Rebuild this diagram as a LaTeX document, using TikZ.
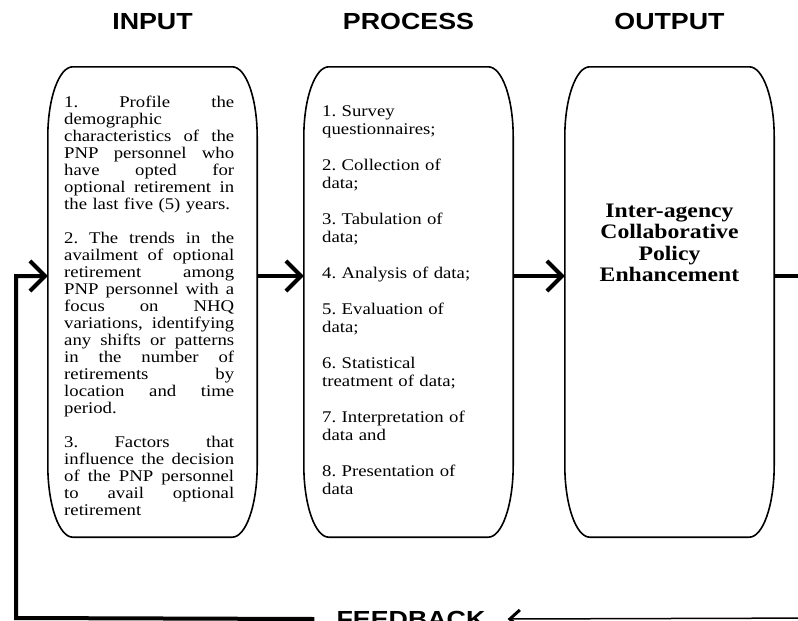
\documentclass[tikz,border=0pt]{standalone}
\usepackage{fontspec}
\setmainfont{Liberation Serif}[FakeStretch=1.15]
\newfontfamily\headfont{Liberation Sans}[FakeStretch=1.15]
\usetikzlibrary{arrows.meta,positioning}

% frame with elliptic corners round a named panel
\newcommand{\panelframe}[1]{%
  \draw[frame] ([xshift=25pt]#1.north west) -- ([xshift=-25pt]#1.north east)
    arc[start angle=90, end angle=0, x radius=25pt, y radius=70pt]
    -- ([yshift=72pt]#1.south east)
    arc[start angle=0, end angle=-90, x radius=25pt, y radius=72pt]
    -- ([xshift=25pt]#1.south west)
    arc[start angle=270, end angle=180, x radius=25pt, y radius=72pt]
    -- ([yshift=-70pt]#1.north west)
    arc[start angle=180, end angle=90, x radius=25pt, y radius=70pt]
    -- cycle;}
% one justified line of the input column
\newcommand{\fullline}[1]{\leavevmode\hbox to 170pt{\spaceskip=0.25em plus 1fil\relax #1}}

\begin{document}
\begin{tikzpicture}[
    x=1pt, y=-1pt,
    node distance=34pt,
    panel/.style={rectangle, minimum width=209pt, minimum height=470pt, inner sep=0pt},
    frame/.style={draw=black, line width=1.6pt, fill=white},
    title/.style={font=\headfont\bfseries\fontsize{23.3pt}{28pt}\selectfont, inner sep=3.3pt},
    bodytext/.style={font=\frenchspacing\fontsize{16.3pt}{17pt}\selectfont, inner sep=0pt, anchor=north west, text width=170pt, align=left},
    flow/.style={line width=4pt, -{Straight Barb[length=15pt, width=30pt]}},
    backflow/.style={line width=1.5pt, -{Straight Barb[length=10pt, width=18pt, line width=3pt]}}
]
\useasboundingbox (0,0) rectangle (798,621);
\clip (0,0) rectangle (798,621);

% Panels
\node[panel] (input) at (152.5,302) {};
\node[panel] (process) at (408.5,302) {};
\node[panel] (output) at (669.5,302) {};
\panelframe{input}
\panelframe{process}
\panelframe{output}

% Headings
\node[title, above=of input] (inputhead) {INPUT};
\node[title, above=of process] (processhead) {PROCESS};
\node[title, above=of output] (outputhead) {OUTPUT};

% Panel texts
\node[bodytext] (inputtext) at (64,96) {%
\fullline{1. Profile the}\\ \fullline{demographic}\\ \fullline{characteristics of the}\\
\fullline{PNP personnel who}\\ \fullline{have opted for}\\ \fullline{optional retirement in}\\
the last five (5) years.\\[17pt]
\fullline{2. The trends in the}\\ \fullline{availment of optional}\\ \fullline{retirement among}\\
\fullline{PNP personnel with a}\\ \fullline{focus on NHQ}\\ \fullline{variations, identifying}\\
\fullline{any shifts or patterns}\\ \fullline{in the number of}\\ \fullline{retirements by}\\
\fullline{location and time}\\ period.\\[17pt]
\fullline{3. Factors that}\\ \fullline{influence the decision}\\ \fullline{of the PNP personnel}\\
\fullline{to avail optional}\\ retirement};

\node[bodytext, font=\frenchspacing\fontsize{16.3pt}{18pt}\selectfont] (processtext) at (322,106) {%
1. Survey\\ questionnaires;\\[18pt]
2. Collection of\\ data;\\[18pt]
3. Tabulation of\\ data;\\[18pt]
4. Analysis of data;\\[18pt]
5. Evaluation of\\ data;\\[18pt]
6. Statistical\\ treatment of data;\\[18pt]
7. Interpretation of\\ data and\\[18pt]
8. Presentation of\\ data};

\node[align=center, font=\bfseries\fontsize{20.6pt}{21.5pt}\selectfont] (outputtext) at (669.5,243) {Inter-agency\\ Collaborative\\ Policy\\ Enhancement};

% Flow between panels
\coordinate (lvl) at (0,276);
\draw[flow] (input.east |- lvl) -- (process.west |- lvl);
\draw[flow] (process.east |- lvl) -- (output.west |- lvl);

% Feedback loop
\node[title, inner xsep=22pt] (feedback) at (411,619) {FEEDBACK};
\coordinate (offedge) at (830,276);
\coordinate (offcorner) at (830,618);
\coordinate (fbcorner) at (16,618);
\draw[line width=4pt] (output.east |- lvl) -- (offedge);
\draw[backflow] (offedge) -- (offcorner) -- (feedback.east);
\draw[flow] (feedback.west) -- (fbcorner) -- (fbcorner |- lvl) -- (input.west |- lvl);

\end{tikzpicture}
\end{document}
